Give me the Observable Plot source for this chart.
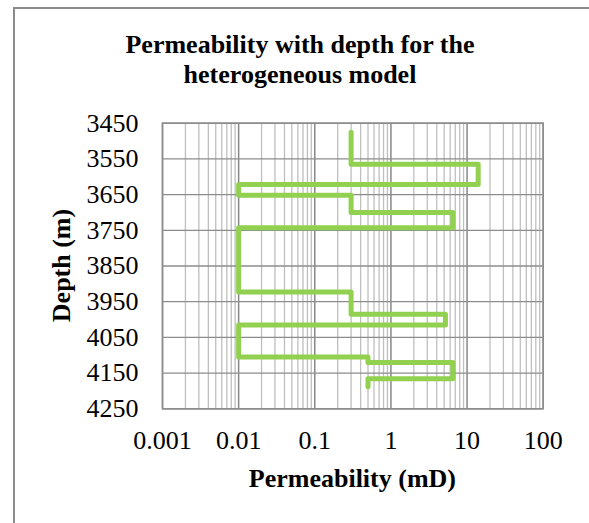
<!DOCTYPE html>
<html>
<head>
<meta charset="utf-8">
<script src="https://cdn.jsdelivr.net/npm/d3@7"></script>
<script src="https://cdn.jsdelivr.net/npm/@observablehq/plot@0.6"></script>
<style>
  html, body { margin: 0; padding: 0; background: #fff; }
  #wrap { position: relative; width: 589px; height: 523px; overflow: hidden; background: #fff; }
  #border { position: absolute; left: 13px; top: 7px; width: 620px; height: 620px; border: 2px solid #8c8c8c; box-sizing: border-box; }
  #wrap svg { position: absolute; left: 0; top: 0; }
</style>
</head>
<body>
<div id="wrap"><div id="border"></div></div>
<script>
// Data (step profile of permeability vs depth)
const permeability = [0.3, 0.3, 14, 14, 0.01, 0.01, 0.3, 0.3, 6.5, 6.5, 0.01, 0.01, 0.3, 0.3, 5.2, 5.2, 0.01, 0.01, 0.5, 0.5, 6.5, 6.5, 0.5, 0.5];
const depth = [3475, 3565, 3565, 3622, 3622, 3652, 3652, 3700, 3700, 3743, 3743, 3923, 3923, 3985, 3985, 4015, 4015, 4105, 4105, 4120, 4120, 4166, 4166, 4188];

const xTicks = [0.001, 0.01, 0.1, 1, 10, 100];
const xTickLabels = ["0.001", "0.01", "0.1", "1", "10", "100"];
const yTicks = [3450, 3550, 3650, 3750, 3850, 3950, 4050, 4150, 4250];
const minorMultipliers = [2, 3, 4, 5, 6, 7, 8, 9];

const titleLines = ["Permeability with depth for the", "heterogeneous model"];
const xLabel = "Permeability (mD)";
const yLabel = "Depth (m)";

const data = permeability.map((k, i) => ({k, d: depth[i]}));
const minorTicks = xTicks.slice(0, -1).flatMap(t => minorMultipliers.map(m => t * m));

const W = 589, H = 523;
const font = "'Liberation Serif', 'Times New Roman', serif";

const chart = Plot.plot({
  width: W,
  height: H,
  marginLeft: 162,
  marginRight: 46.3,
  marginTop: 122.7,
  marginBottom: 114.7,
  style: {fontFamily: font, fontSize: "26px", color: "#000", background: "transparent"},
  x: {type: "log", domain: [0.001, 100]},
  y: {domain: [3450, 4250], reverse: true},
  marks: [
    Plot.ruleX(minorTicks, {stroke: "#bfbfbf", strokeWidth: 1.3}),
    Plot.ruleX(xTicks, {stroke: "#888", strokeWidth: 1.5}),
    Plot.ruleY(yTicks, {stroke: "#8c8c8c", strokeWidth: 1.3}),
    Plot.frame({stroke: "#8c8c8c", strokeWidth: 1.5}),
    Plot.axisX({ticks: xTicks, tickFormat: (d) => xTickLabels[xTicks.indexOf(d)], tickSize: 0, tickPadding: 22, label: null, fontSize: 26}),
    Plot.axisY({ticks: yTicks, tickFormat: (d) => String(d), tickSize: 0, tickPadding: 24, label: null, fontSize: 26}),
    Plot.line(data, {x: "k", y: "d", stroke: "#92D050", strokeWidth: 5, strokeLinejoin: "round", strokeLinecap: "round"})
  ]
});
document.getElementById("wrap").appendChild(chart);

// Overlay: title and axis titles
const overlay = d3.select("#wrap").append("svg")
  .attr("width", W).attr("height", H)
  .style("font-family", font).style("pointer-events", "none");

overlay.selectAll("text.title").data(titleLines).join("text")
  .attr("class", "title")
  .attr("x", 300)
  .attr("y", (d, i) => 53 + i * 30)
  .attr("text-anchor", "middle")
  .attr("font-weight", "bold")
  .attr("font-size", 26)
  .attr("fill", "#000")
  .text(d => d);

overlay.append("text")
  .attr("x", 352.4).attr("y", 487)
  .attr("text-anchor", "middle")
  .attr("font-weight", "bold")
  .attr("font-size", 26)
  .attr("fill", "#000")
  .text(xLabel);

overlay.append("text")
  .attr("transform", "translate(70,265.5) rotate(-90)")
  .attr("text-anchor", "middle")
  .attr("font-weight", "bold")
  .attr("font-size", 26)
  .attr("fill", "#000")
  .text(yLabel);
</script>
</body>
</html>
